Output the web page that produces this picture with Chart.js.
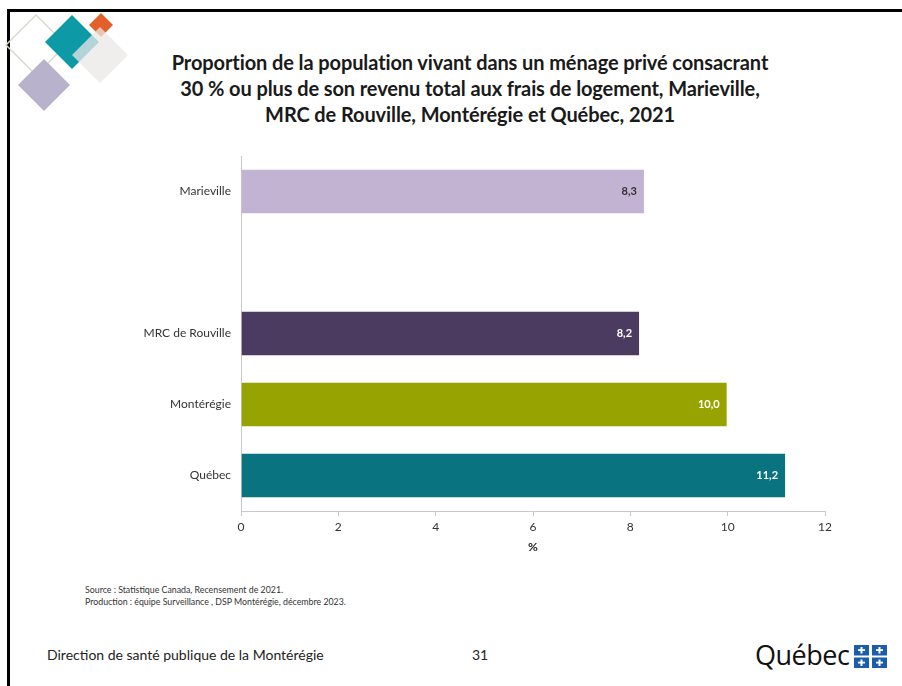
<!DOCTYPE html>
<html lang="fr">
<head>
<meta charset="utf-8">
<script src="https://cdn.jsdelivr.net/npm/chart.js@4/dist/chart.umd.min.js"></script>
<style>
  html, body { margin: 0; padding: 0; background: #fff; }
  body { width: 902px; height: 686px; position: relative; overflow: hidden; font-family: Lato, "Open Sans", sans-serif; color: #222; }
  .border-top { position: absolute; left: 7px; top: 9px; width: 895px; height: 3px; background: #000; }
  .border-left { position: absolute; left: 7px; top: 9px; width: 3px; height: 677px; background: #000; }
  #logo { position: absolute; left: 0; top: 0; }
  .title { position: absolute; left: 100px; width: 740px; top: 49px; text-align: center; font-weight: bold; font-size: 20px; line-height: 26px; color: #1a1a1a; letter-spacing: -0.1px; }
  #chart { position: absolute; left: 0; top: 150px; }
  .source { position: absolute; left: 85px; top: 584px; font-size: 8.8px; line-height: 12px; color: #333; }
  .footer { position: absolute; top: 646px; font-size: 14px; color: #222; }
  .quebec { position: absolute; left: 755px; top: 636px; font-family: "Open Sans", sans-serif; font-size: 27px; letter-spacing: -0.5px; color: #111; }
  .flag { position: absolute; left: 854px; top: 645px; }
</style>
</head>
<body>
<div class="border-top"></div>
<div class="border-left"></div>

<svg id="logo" width="150" height="120">
  <polygon points="36,15 66,45 36,75 6,45" fill="none" stroke="#d5dccf" stroke-width="1.5"/>
  <polygon points="44,59 70,85 44,111 18,85" fill="#b9b2cc"/>
  <polygon points="72,15 99,42 72,69 45,42" fill="#0e99a6"/>
  <polygon points="101,13 113,25 101,37 89,25" fill="#e3602a"/>
  <polygon points="100,27 128,55 100,83 72,55" fill="#ebe8e6" fill-opacity="0.75"/>
</svg>

<div class="title">Proportion de la population vivant dans un ménage privé consacrant<br>30 % ou plus de son revenu total aux frais de logement, Marieville,<br>MRC de Rouville, Montérégie et Québec, 2021</div>

<canvas id="chart" width="902" height="420"></canvas>

<div class="source">Source : Statistique Canada, Recensement de 2021.<br>Production : équipe Surveillance , DSP Montérégie, décembre 2023.</div>

<div class="footer" style="left:47px">Direction de santé publique de la Montérégie</div>
<div class="footer" style="left:472px">31</div>
<div class="quebec">Québec</div>
<svg class="flag" width="33" height="23">
  <rect x="0" y="0" width="15" height="10.5" fill="#1b5cab"/>
  <rect x="18" y="0" width="15" height="10.5" fill="#1b5cab"/>
  <rect x="0" y="12.5" width="15" height="10.5" fill="#1b5cab"/>
  <rect x="18" y="12.5" width="15" height="10.5" fill="#1b5cab"/>
  <g fill="#fff">
    <rect x="6.5" y="2" width="2" height="6.5"/><rect x="4" y="4.2" width="7" height="1.8"/>
    <rect x="24.5" y="2" width="2" height="6.5"/><rect x="22" y="4.2" width="7" height="1.8"/>
    <rect x="6.5" y="14.5" width="2" height="6.5"/><rect x="4" y="16.7" width="7" height="1.8"/>
    <rect x="24.5" y="14.5" width="2" height="6.5"/><rect x="22" y="16.7" width="7" height="1.8"/>
  </g>
</svg>

<script>
// categories (empty slot between Marieville and MRC)
const categories = ["Marieville", "", "MRC de Rouville", "Montérégie", "Québec"];
const values = [8.3, null, 8.2, 10.0, 11.2];
const barColors = ["#c3b3d3", "rgba(0,0,0,0)", "#4c3b60", "#97a300", "#097480"];
const labelColors = ["#333333", "#000", "#ffffff", "#ffffff", "#ffffff"];
const xTicks = [0, 2, 4, 6, 8, 10, 12];

// draws the value inside the end of each bar
const valueLabels = {
    id: "valueLabels",
    afterDatasetsDraw(chart) {
        const ctx = chart.ctx;
        const meta = chart.getDatasetMeta(0);
        ctx.save();
        ctx.font = "bold 11px Lato, 'Open Sans', sans-serif";
        ctx.textAlign = "right";
        ctx.textBaseline = "middle";
        meta.data.forEach((bar, i) => {
            if (values[i] === null) return;
            ctx.fillStyle = labelColors[i];
            ctx.fillText(values[i].toFixed(1).replace(".", ","), bar.x - 8, bar.y);
        });
        ctx.restore();
    }
};

new Chart(document.getElementById("chart").getContext("2d"), {
    type: "bar",
    data: {
        labels: categories,
        datasets: [{
            data: values,
            backgroundColor: barColors,
            borderColor: "rgba(255,255,255,0.5)",
            borderWidth: 1,
            barPercentage: 1,
            categoryPercentage: 0.64,
        }],
    },
    options: {
        indexAxis: "y",
        responsive: false,
        devicePixelRatio: 1,
        animation: false,
        layout: { padding: { top: 6, right: 77, left: 0, bottom: 0 } },
        plugins: {
            legend: { display: false },
            tooltip: { enabled: false },
        },
        scales: {
            x: {
                min: 0,
                max: 12,
                afterBuildTicks: (scale) => { scale.ticks = xTicks.map(v => ({ value: v })); },
                afterFit: (scale) => { scale.height = 59; },
                grid: { display: true, drawOnChartArea: false, drawTicks: true, tickLength: 5, color: "#c8c8c8" },
                border: { display: true, color: "#c8c8c8" },
                ticks: { padding: 4, color: "#333", font: { family: "Lato", size: 12 } },
                title: { display: true, text: "%", color: "#222", font: { family: "Lato", size: 12, weight: "bold" }, padding: { top: 4, bottom: 16 } },
            },
            y: {
                afterFit: (scale) => { scale.width = 241; scale.paddingTop = 0; scale.paddingBottom = 0; },
                grid: { display: false },
                border: { display: true, color: "#c8c8c8" },
                ticks: { padding: 2, color: "#333", font: { family: "Lato", size: 12 } },
            },
        },
    },
    plugins: [valueLabels],
});
</script>
</body>
</html>
